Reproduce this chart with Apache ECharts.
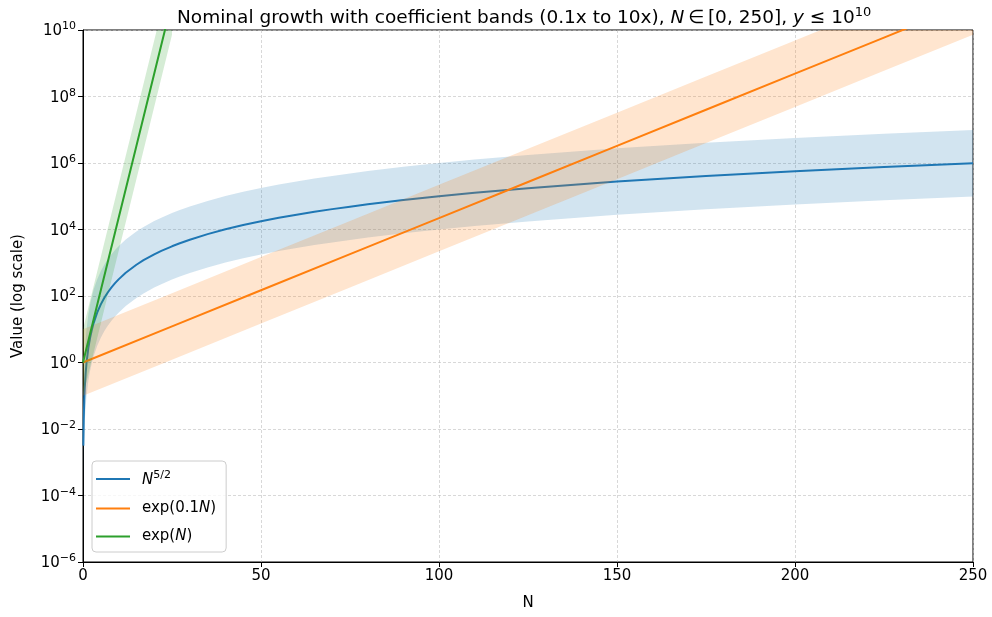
<!DOCTYPE html>
<html>
<head>
<meta charset="utf-8">
<script src="https://cdn.jsdelivr.net/npm/echarts@6/dist/echarts.min.js"></script>
<style>
  html, body { margin: 0; padding: 0; background: #fff; }
  #chart { width: 992px; height: 617px; }
</style>
</head>
<body>
<div id="chart"></div>
<script>
// N^(5/2) curve and its 0.1x / 10x band
const powN = [0.1, 0.2, 0.35, 0.5, 0.75, 1, 1.5, 2, 2.5, 3, 4, 5, 6, 7, 8, 9, 10, 12, 15, 17, 20, 22, 25, 27, 30, 35, 40, 45, 50, 55, 60, 65, 70, 75, 80, 90, 100, 110, 125, 150, 175, 200, 225, 250]
const powY = [0.00316, 0.0179, 0.0725, 0.177, 0.487, 1, 2.76, 5.66, 9.88, 15.6, 32, 55.9, 88.2, 129.6, 181, 243, 316, 499, 871, 1192, 1789, 2270, 3125, 3788, 4930, 7247, 10119, 13584, 17678, 22434, 27885, 34063, 40996, 48714, 57243, 76843, 100000, 126906, 174693, 275568, 405134, 565685, 759375, 988212]
const powLow = [0.000316, 0.00179, 0.00725, 0.0177, 0.0487, 0.1, 0.276, 0.566, 0.988, 1.56, 3.2, 5.59, 8.82, 12.96, 18.1, 24.3, 31.6, 49.9, 87.1, 119.2, 178.9, 227, 312.5, 378.8, 493, 724.7, 1011.9, 1358.4, 1767.8, 2243.4, 2788.5, 3406.3, 4099.6, 4871.4, 5724.3, 7684.3, 10000, 12690.6, 17469.3, 27556.8, 40513.4, 56568.5, 75937.5, 98821.2]
const powHigh = [0.0316, 0.179, 0.725, 1.77, 4.87, 10, 27.6, 56.6, 98.8, 156, 320, 559, 882, 1296, 1810, 2430, 3160, 4990, 8710, 11920, 17890, 22700, 31250, 37880, 49300, 72470, 101190, 135840, 176780, 224340, 278850, 340630, 409960, 487140, 572430, 768430, 1000000, 1269060, 1746930, 2755680, 4051340, 5656850, 7593750, 9882120]

// exp(0.1N)
const expSlowN = [0, 25, 50, 75, 100, 125, 150, 175, 200, 225, 250]
const expSlowY = [1, 12.18, 148.4, 1808, 22026, 268337, 3269017, 39824784, 485165195, 5910522063, 72004899337]
const expSlowLow = [0.1, 1.218, 14.84, 180.8, 2202.6, 26834, 326902, 3982478, 48516520, 591052206, 7200489934]
const expSlowHigh = [10, 121.8, 1484, 18080, 220260, 2683370, 32690170, 398247840, 4851651950, 59105220630, 720048993370]

// exp(N)
const expFastN = [0, 5, 10, 15, 20, 25]
const expFastY = [1, 148.4, 22026, 3269017, 485165195, 72004899337]
const expFastLow = [0.1, 14.84, 2202.6, 326902, 48516520, 7200489934]
const expFastHigh = [10, 1484, 220260, 32690170, 4851651950, 720048993370]

const xTicks = [0, 50, 100, 150, 200, 250]
const legendNames = ['N^5/2', 'exp(0.1N)', 'exp(N)']

const FONT = 'DejaVu Sans'
const BLUE = '#1f77b4'
const ORANGE = '#ff7f0e'
const GREEN = '#2ca02c'

const zip = (xs, ys) => xs.map((x, i) => [x, ys[i]])

// 填充带：用坐标系把上下边界拼成一个多边形
const bandSeries = (xs, low, high, color, z) => ({
  type: 'custom',
  z: z,
  silent: true,
  clip: true,
  data: xs.map((x, i) => [x, low[i], high[i]]),
  renderItem: (params, api) => {
    if (params.dataIndex !== 0) return null
    const pts = []
    xs.forEach((x, i) => pts.push(api.coord([x, high[i]])))
    for (let i = xs.length - 1; i >= 0; i--) pts.push(api.coord([xs[i], low[i]]))
    const cs = params.coordSys
    return {
      type: 'polygon',
      shape: { points: pts },
      style: { fill: color, opacity: 0.2 },
      clipPath: { type: 'rect', shape: { x: cs.x, y: cs.y, width: cs.width, height: cs.height } }
    }
  }
})

const lineSeries = (name, xs, ys, color, z) => ({
  name: name,
  type: 'line',
  z: z,
  data: zip(xs, ys),
  showSymbol: false,
  clip: true,
  lineStyle: { color: color, width: 2 },
  itemStyle: { color: color }
})

const supExp = (e) => (e < 0 ? '\u2212' + (-e) : String(e))

const chart = echarts.init(document.getElementById('chart'))

const option = {
  animation: false,
  textStyle: { fontFamily: FONT },
  title: {
    left: 172,
    top: 1,
    text: '{a|Nominal growth with coefficient bands (0.1x to 10x), }{i|N}{a|\u2009\u2208\u2009[0, 250], }{i|y}{a| \u2264 10}{s|10}',
    textStyle: {
      fontWeight: 'normal',
      rich: {
        a: { fontFamily: FONT, fontSize: 18.5, color: '#000', verticalAlign: 'bottom' },
        i: { fontFamily: FONT, fontSize: 18.5, color: '#000', fontStyle: 'italic', verticalAlign: 'bottom' },
        s: { fontFamily: FONT, fontSize: 13, color: '#000', verticalAlign: 'bottom', padding: [0, 0, 9, 0] }
      }
    }
  },
  legend: {
    orient: 'vertical',
    left: 92,
    top: 461,
    data: legendNames,
    icon: 'rect',
    itemWidth: 34,
    itemHeight: 2,
    itemGap: 13,
    padding: [9, 10, 8, 4],
    backgroundColor: 'rgba(255,255,255,0.8)',
    borderColor: '#cccccc',
    borderWidth: 1,
    borderRadius: 4,
    formatter: (name) => {
      if (name === 'N^5/2') return '{i|N}{s|5/2}'
      if (name === 'exp(0.1N)') return '{a|exp(0.1}{i|N}{a|)}'
      return '{a|exp(}{i|N}{a|)}'
    },
    textStyle: {
      padding: [0, 0, 0, 7],
      rich: {
        a: { fontFamily: FONT, fontSize: 15, color: '#000', verticalAlign: 'bottom' },
        i: { fontFamily: FONT, fontSize: 15, color: '#000', fontStyle: 'italic', verticalAlign: 'bottom' },
        s: { fontFamily: FONT, fontSize: 11, color: '#000', verticalAlign: 'bottom', padding: [0, 0, 7, 0] }
      }
    }
  },
  grid: {
    left: 83,
    right: 19,
    top: 30,
    bottom: 55,
    show: true,
    borderColor: '#000',
    borderWidth: 1,
    backgroundColor: 'transparent'
  },
  xAxis: {
    type: 'value',
    min: 0,
    max: 250,
    interval: 50,
    name: 'N',
    nameLocation: 'middle',
    nameGap: 34,
    nameTextStyle: { fontFamily: FONT, fontSize: 15, color: '#000' },
    axisLine: { show: true, lineStyle: { color: '#000', width: 1 } },
    axisTick: { show: true, length: 5, lineStyle: { color: '#000' } },
    axisLabel: {
      fontFamily: FONT, fontSize: 15, color: '#000', margin: 7,
      formatter: (v) => (xTicks.includes(v) ? String(v) : '')
    },
    splitLine: { show: true, lineStyle: { color: '#bdbdbd', width: 0.6, type: [3, 2] } }
  },
  yAxis: {
    type: 'log',
    logBase: 10,
    min: 1e-6,
    max: 1e10,
    interval: 2,
    name: 'Value (log scale)',
    nameLocation: 'middle',
    nameGap: 57,
    nameRotate: 90,
    nameTextStyle: { fontFamily: FONT, fontSize: 15, color: '#000' },
    axisLine: { show: true, lineStyle: { color: '#000', width: 1 } },
    axisTick: { show: true, length: 5, lineStyle: { color: '#000' } },
    axisLabel: {
      color: '#000',
      margin: 7,
      formatter: (v) => '{b|10}{e|' + supExp(Math.round(Math.log10(v))) + '}',
      rich: {
        b: { fontFamily: FONT, fontSize: 15, color: '#000', verticalAlign: 'bottom' },
        e: { fontFamily: FONT, fontSize: 11, color: '#000', verticalAlign: 'bottom', padding: [0, 0, 7, 0] }
      }
    },
    splitLine: { show: true, lineStyle: { color: '#bdbdbd', width: 0.6, type: [3, 2] } },
    minorTick: { show: false },
    minorSplitLine: { show: false }
  },
  series: [
    bandSeries(powN, powLow, powHigh, BLUE, 1),
    lineSeries('N^5/2', powN, powY, BLUE, 2),
    bandSeries(expSlowN, expSlowLow, expSlowHigh, ORANGE, 3),
    lineSeries('exp(0.1N)', expSlowN, expSlowY, ORANGE, 4),
    bandSeries(expFastN, expFastLow, expFastHigh, GREEN, 5),
    lineSeries('exp(N)', expFastN, expFastY, GREEN, 6)
  ]
}

chart.setOption(option)
</script>
</body>
</html>
